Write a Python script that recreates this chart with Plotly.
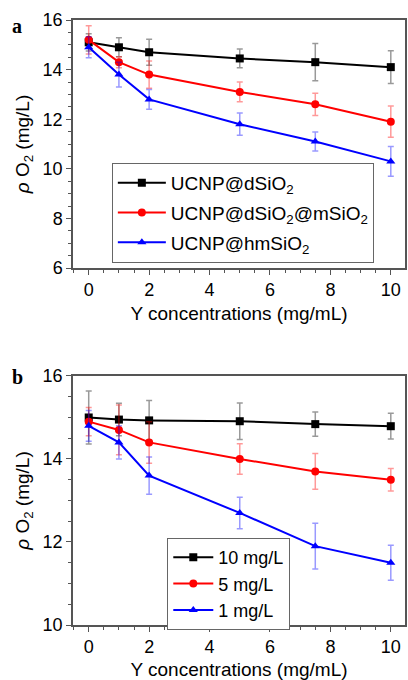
import plotly.graph_objects as go

x = [0, 1, 2, 5, 7.5, 10]

# Panel a
a_names = ["UCNP@dSiO<sub>2</sub>", "UCNP@dSiO<sub>2</sub>@mSiO<sub>2</sub>", "UCNP@hmSiO<sub>2</sub>"]
a_dSiO2 = [15.1, 14.9, 14.7, 14.45, 14.3, 14.1]
a_dSiO2_err = [0.35, 0.38, 0.52, 0.38, 0.75, 0.66]
a_mSiO2 = [15.2, 14.3, 13.8, 13.1, 12.6, 11.9]
a_mSiO2_err = [0.57, 0.22, 0.55, 0.4, 0.45, 0.63]
a_hmSiO2 = [14.9, 13.8, 12.8, 11.8, 11.1, 10.3]
a_hmSiO2_err = [0.42, 0.5, 0.4, 0.45, 0.38, 0.6]

# Panel b
b_names = ["10 mg/L", "5 mg/L", "1 mg/L"]
b_10 = [15.0, 14.95, 14.93, 14.91, 14.84, 14.79]
b_10_err = [0.64, 0.39, 0.48, 0.44, 0.29, 0.31]
b_5 = [14.9, 14.7, 14.4, 14.0, 13.7, 13.5]
b_5_err = [0.34, 0.6, 0.5, 0.37, 0.43, 0.27]
b_1 = [14.8, 14.4, 13.6, 12.7, 11.9, 11.5]
b_1_err = [0.37, 0.4, 0.45, 0.38, 0.55, 0.42]

colors = ["black", "red", "blue"]
err_colors = ["rgba(0,0,0,0.4)", "rgba(255,0,0,0.4)", "rgba(0,0,255,0.4)"]
symbols = ["square", "circle", "triangle-up"]

fig = go.Figure()

def add(ys, errs, names, xa, ya, leg, tag):
    for i in range(3):
        fig.add_trace(go.Scatter(
            x=x, y=ys[i], name=names[i], mode="lines+markers",
            xaxis=xa, yaxis=ya, legend=leg, legendgroup=f"{tag}{i}",
            line=dict(color=colors[i], width=2),
            marker=dict(symbol=symbols[i], size=8, color=colors[i]),
            error_y=dict(type="data", array=errs[i], color=err_colors[i], thickness=1.5, width=3),
        ))

add([a_dSiO2, a_mSiO2, a_hmSiO2], [a_dSiO2_err, a_mSiO2_err, a_hmSiO2_err], a_names, "x", "y", "legend", "a")
add([b_10, b_5, b_1], [b_10_err, b_5_err, b_1_err], b_names, "x2", "y2", "legend2", "b")

font = dict(family="Liberation Sans, Arial", size=19, color="black")
lbfont = dict(family="Liberation Sans, Arial", size=18, color="black")
tfont = dict(family="Liberation Sans, Arial", size=18, color="black")
axcommon = dict(showline=True, linecolor="#555", linewidth=1.5, mirror=True, ticks="outside",
                ticklen=5, tickcolor="#555", showgrid=False, zeroline=False,
                tickfont=tfont, minor=dict(ticks="outside", ticklen=3, tickcolor="#555"))

ytitle = "<i>ρ</i> O<sub>2</sub> (mg/L)"
fig.update_layout(
    width=408, height=680, margin=dict(l=73, r=1, t=20, b=55),
    plot_bgcolor="white", paper_bgcolor="white", font=font,
    xaxis=dict(domain=[0, 1], anchor="y", range=[-0.52, 10.47], dtick=2, tick0=0,
               title=dict(text="Y concentrations (mg/mL)", font=font, standoff=7), **axcommon),
    yaxis=dict(domain=[0.59, 1], anchor="x", range=[6, 16], dtick=2,
               title=dict(text=ytitle, font=font, standoff=8), **axcommon),
    xaxis2=dict(domain=[0, 1], anchor="y2", range=[-0.52, 10.47], dtick=2, tick0=0,
                title=dict(text="Y concentrations (mg/mL)", font=font, standoff=8), **axcommon),
    yaxis2=dict(domain=[0, 0.4116], anchor="x2", range=[10, 16], dtick=2,
                title=dict(text=ytitle, font=font, standoff=8), **axcommon),
    legend=dict(x=0.117, y=0.7636, xanchor="left", yanchor="top", bordercolor="#666",
                borderwidth=1, bgcolor="white", font=font, tracegroupgap=2, itemwidth=48),
    legend2=dict(x=0.284, y=0.1438, xanchor="left", yanchor="top", bordercolor="#666",
                 borderwidth=1, bgcolor="white", font=lbfont, tracegroupgap=0, itemwidth=40),
    annotations=[
        dict(text="<b>a</b>", xref="paper", yref="paper", x=-0.19, y=0.990, xanchor="left", yanchor="middle",
             showarrow=False, font=dict(family="Liberation Serif", size=20, color="black")),
        dict(text="<b>b</b>", xref="paper", yref="paper", x=-0.19, y=0.410, xanchor="left", yanchor="middle",
             showarrow=False, font=dict(family="Liberation Serif", size=20, color="black")),
    ],
)

fig.write_html("out.html", config={"displayModeBar": False},
               post_script="document.body.style.margin='0';document.body.style.padding='0';")
